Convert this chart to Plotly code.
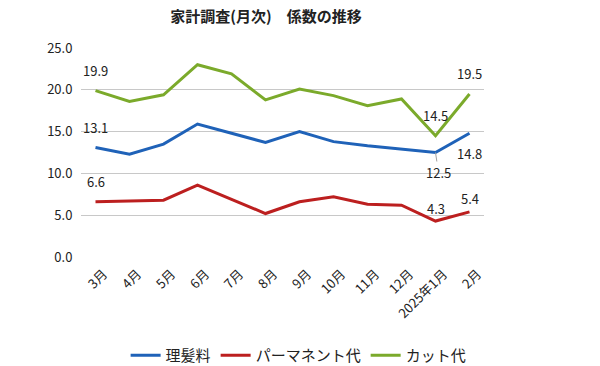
import plotly.graph_objects as go

months = ["3月", "4月", "5月", "6月", "7月", "8月", "9月", "10月", "11月", "12月", "2025年1月", "2月"]
haircut = [13.1, 12.3, 13.5, 15.9, 14.8, 13.7, 15.0, 13.8, 13.3, 12.9, 12.5, 14.8]
perm = [6.6, 6.7, 6.8, 8.6, 6.9, 5.2, 6.6, 7.2, 6.3, 6.2, 4.3, 5.4]
cut = [19.9, 18.6, 19.4, 23.0, 21.9, 18.8, 20.1, 19.3, 18.1, 18.9, 14.5, 19.5]
y_ticks = [0, 5, 10, 15, 20, 25]

names = ["理髪料", "パーマネント代", "カット代"]
colors = ["#1F62B8", "#BC1F1F", "#7BAA2B"]
series = [haircut, perm, cut]

FONT = "Noto Sans CJK JP"
fig = go.Figure()
for n, c, s in zip(names, colors, series):
    fig.add_trace(go.Scatter(x=months, y=s, name=n, mode="lines",
                             line=dict(color=c, width=3)))

# data labels: (series, index, yshift)
labels = [
    (haircut, 0, 20), (perm, 0, 20), (cut, 0, 20),
    (cut, 10, 20), (perm, 10, 13),
    (cut, 11, 20), (haircut, 11, -20), (perm, 11, 13),
]
anns = []
for s, i, ys in labels:
    anns.append(dict(x=months[i], y=s[i], text=f"{s[i]:.1f}", showarrow=False,
                     yshift=ys, font=dict(family=FONT, size=13, color="#222")))
# 12.5 with leader line
anns.append(dict(x=months[10], y=haircut[10], text=f"{haircut[10]:.1f}",
                 showarrow=True, arrowhead=0, arrowcolor="#A0A0A0", arrowwidth=1,
                 ax=3, ay=20, font=dict(family=FONT, size=13, color="#222")))

fig.update_layout(
    width=600, height=366,
    margin=dict(l=81, r=116, t=48, b=109, autoexpand=False),
    paper_bgcolor="white", plot_bgcolor="white",
    title=dict(text="家計調査(月次)　係数の推移", x=266/600, xanchor="center",
               y=1 - 17/366, yanchor="middle",
               font=dict(family=FONT, size=15, color="#222", weight="bold")),
    xaxis=dict(type="category", tickangle=-45, showgrid=False, showline=False,
               ticks="", automargin=False, ticklabelstandoff=6, ticklabelshift=8,
               tickfont=dict(family=FONT, size=13, color="#222")),
    yaxis=dict(range=[0, 25], tickvals=y_ticks, tickformat=".1f",
               showgrid=True, gridcolor="#C8C8C8", gridwidth=1, zeroline=False,
               ticks="outside", ticklen=5, tickcolor="rgba(0,0,0,0)",
               automargin=False,
               tickfont=dict(family=FONT, size=13, color="#222")),
    legend=dict(orientation="h", x=324/600, xanchor="center", y=1 - 339/366,
                yanchor="top", yref="container",
                font=dict(family=FONT, size=15, color="#222"),
                itemwidth=30),
    annotations=anns,
    showlegend=True,
)

fig.write_html("out.html", config={"displayModeBar": False},
               post_script="document.body.style.margin='0';document.body.style.padding='0';")
